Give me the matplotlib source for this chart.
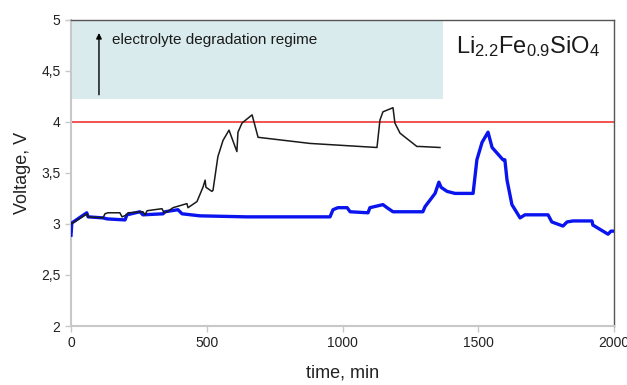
import matplotlib
matplotlib.use("Agg")
import matplotlib.pyplot as plt
from matplotlib.patches import Rectangle
from matplotlib.ticker import FuncFormatter

plt.rcParams['font.family'] = ['Liberation Sans', 'DejaVu Sans']
plt.rcParams['mathtext.fontset'] = 'custom'
plt.rcParams['mathtext.rm'] = 'Liberation Sans'
plt.rcParams['mathtext.it'] = 'Liberation Sans'
plt.rcParams['mathtext.bf'] = 'Liberation Sans:bold'

# Black curve (time, min ; voltage, V)
black_t = [0, 59, 63, 118, 125, 136, 180, 188, 206, 210, 265, 273, 280, 335, 343, 354,
           376, 427, 431, 464, 486, 494, 497, 519, 523, 541, 560, 582, 611, 615, 630,
           667, 689, 880, 1127, 1138, 1149, 1186, 1193, 1212, 1274, 1285, 1359]
black_v = [3.00, 3.10, 3.07, 3.06, 3.10, 3.11, 3.11, 3.07, 3.09, 3.11, 3.12, 3.09, 3.13,
           3.15, 3.11, 3.12, 3.16, 3.20, 3.16, 3.22, 3.36, 3.43, 3.36, 3.32, 3.33, 3.66,
           3.82, 3.92, 3.71, 3.90, 3.99, 4.07, 3.85, 3.79, 3.75, 4.02, 4.10, 4.14, 3.99,
           3.89, 3.76, 3.76, 3.75]

# Blue curve
blue_t = [0, 3, 58, 63, 118, 133, 199, 206, 254, 265, 339, 346, 394, 409, 475, 648, 954,
          965, 983, 1017, 1028, 1094, 1101, 1149, 1164, 1186, 1296, 1304, 1341, 1355, 1363,
          1385, 1414, 1481, 1495, 1514, 1536, 1551, 1591, 1598, 1606, 1624, 1654, 1672,
          1757, 1771, 1812, 1827, 1849, 1919, 1922, 1978, 1989, 2000]
blue_v = [2.89, 3.01, 3.11, 3.07, 3.06, 3.05, 3.04, 3.09, 3.12, 3.09, 3.10, 3.12, 3.14,
          3.10, 3.08, 3.07, 3.07, 3.14, 3.16, 3.16, 3.12, 3.11, 3.16, 3.19, 3.16, 3.12,
          3.12, 3.17, 3.30, 3.41, 3.36, 3.32, 3.30, 3.30, 3.63, 3.80, 3.90, 3.75, 3.63,
          3.63, 3.43, 3.19, 3.06, 3.09, 3.09, 3.02, 2.98, 3.02, 3.03, 3.03, 2.99, 2.90,
          2.93, 2.93]

x_ticks = [0, 500, 1000, 1500, 2000]
y_ticks = [2, 2.5, 3, 3.5, 4, 4.5, 5]
limit_v = 4.0
regime_t_end = 1370
regime_v_low = 4.23

fig = plt.figure(figsize=(6.27, 3.85), dpi=100)
ax = fig.add_axes([71/627, 1-326/385, (614-71)/627, (326-20)/385])

ax.add_patch(Rectangle((0, regime_v_low), regime_t_end, 5 - regime_v_low,
                       facecolor='#daebee', edgecolor='none', zorder=0))
ax.axhline(limit_v, color='#f04545', lw=1.3, zorder=2)
ax.plot(blue_t, blue_v, color='#0a14ee', lw=2.4, zorder=3, solid_joinstyle='round')
ax.plot(black_t, black_v, color='#1a1a1a', lw=1.1, zorder=4)

ax.annotate('', xy=(103, 4.9), xytext=(103, 4.24),
            arrowprops=dict(arrowstyle='-|>', color='black', lw=1.0, mutation_scale=8))
ax.text(150, 4.80, 'electrolyte degradation regime', fontsize=11, va='center', ha='left',
        color='#1a1a1a')
ax.text(1950, 4.74, r'Li$_{2.2}$Fe$_{0.9}$SiO$_{4}$', fontsize=17, ha='right', va='center',
        color='#1a1a1a')

ax.set_xlim(0, 2000)
ax.set_ylim(2, 5)
ax.set_xticks(x_ticks)
ax.set_yticks(y_ticks)
ax.yaxis.set_major_formatter(FuncFormatter(lambda v, p: ('%g' % v).replace('.', ',')))
ax.tick_params(axis='both', colors='#c8c8c8', labelcolor='#222222', labelsize=10,
               length=4, width=1)

for s in ['left', 'bottom']:
    ax.spines[s].set_color('#c8c8c8')
    ax.spines[s].set_linewidth(1.5)
for s in ['right', 'top']:
    ax.spines[s].set_color('#555555')
    ax.spines[s].set_linewidth(1.0)

ax.set_xlabel('time, min', fontsize=13, color='#222222', labelpad=10)
ax.set_ylabel('Voltage, V', fontsize=13, color='#222222', labelpad=7)

fig.savefig('out.png', dpi=100)
